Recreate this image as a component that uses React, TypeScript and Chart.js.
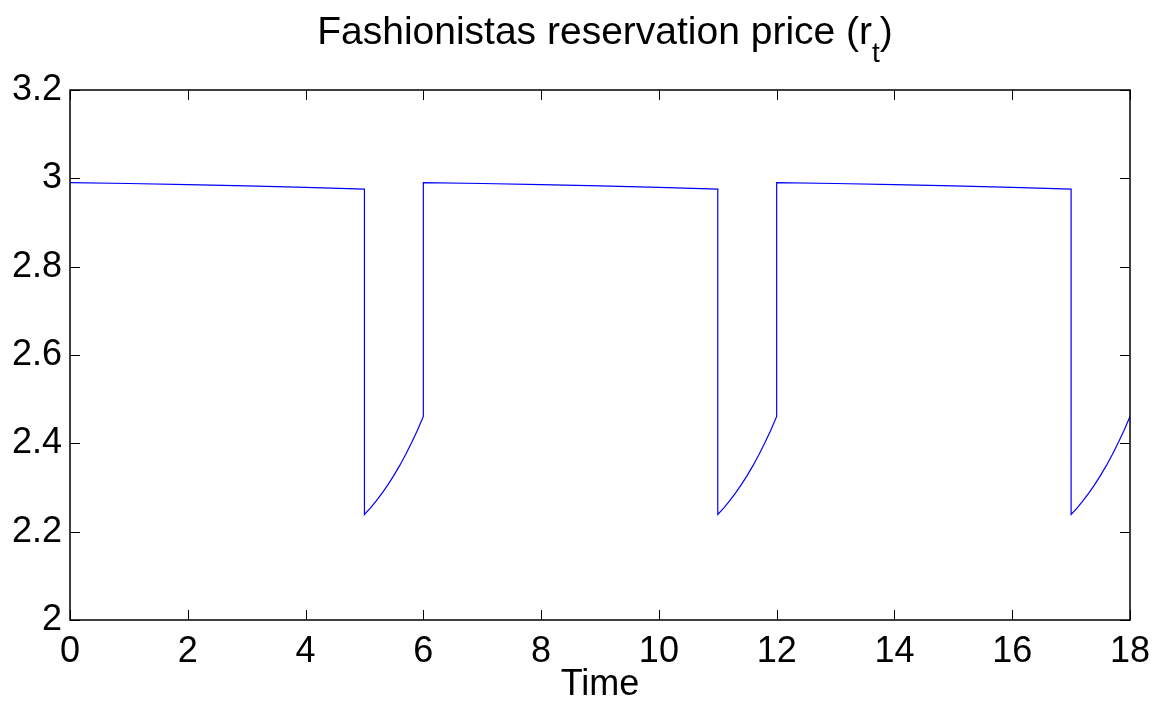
import React, { useEffect, useRef } from "react";
import { Chart, registerables } from "chart.js";

Chart.register(...registerables);

// Time points (vertical jumps are given as repeated times)
const timePoints: number[] = [
  0, 1, 2, 3, 4, 5,
  5, 5.1, 5.2, 5.3, 5.4, 5.5, 5.6, 5.7, 5.8, 5.9, 6,
  6, 7, 8, 9, 10, 11,
  11, 11.1, 11.2, 11.3, 11.4, 11.5, 11.6, 11.7, 11.8, 11.9, 12,
  12, 13, 14, 15, 16, 17,
  17, 17.1, 17.2, 17.3, 17.4, 17.5, 17.6, 17.7, 17.8, 17.9, 18,
];

// Fashionistas reservation price r_t
const reservationPrice: number[] = [
  2.9905, 2.9883, 2.9858, 2.983, 2.9795, 2.9755,
  2.239, 2.2535, 2.2695, 2.2872, 2.3065, 2.3275, 2.35, 2.3745, 2.4011, 2.4298, 2.4608,
  2.9905, 2.9883, 2.9858, 2.983, 2.9795, 2.9755,
  2.239, 2.2535, 2.2695, 2.2872, 2.3065, 2.3275, 2.35, 2.3745, 2.4011, 2.4298, 2.4608,
  2.9905, 2.9883, 2.9858, 2.983, 2.9795, 2.9755,
  2.239, 2.2535, 2.2695, 2.2872, 2.3065, 2.3275, 2.35, 2.3745, 2.4011, 2.4298, 2.4608,
];

const xTicks: number[] = [0, 2, 4, 6, 8, 10, 12, 14, 16, 18];
const yTicks: number[] = [2, 2.2, 2.4, 2.6, 2.8, 3, 3.2];
const yTickLabels: string[] = ["2", "2.2", "2.4", "2.6", "2.8", "3", "3.2"];

const titleMain = "Fashionistas reservation price (r";
const titleSub = "t";
const titleEnd = ")";
const xAxisLabel = "Time";

const FONT = "'Liberation Sans', Arial, Helvetica, sans-serif";

const framePlugin = {
  id: "matlabFrame",
  afterDraw(chart: any) {
    const ctx = chart.ctx;
    const { left, right, top, bottom } = chart.chartArea;
    const xs = chart.scales.x;
    const ys = chart.scales.y;
    ctx.save();
    ctx.strokeStyle = "#000";
    ctx.lineWidth = 1.5;
    ctx.strokeRect(left, top, right - left, bottom - top);
    ctx.lineWidth = 1;
    const tl = 10;
    ctx.beginPath();
    for (const v of xTicks) {
      const px = Math.round(xs.getPixelForValue(v)) + 0.5;
      ctx.moveTo(px, bottom);
      ctx.lineTo(px, bottom - tl);
      ctx.moveTo(px, top);
      ctx.lineTo(px, top + tl);
    }
    for (const v of yTicks) {
      const py = Math.round(ys.getPixelForValue(v)) + 0.5;
      ctx.moveTo(left, py);
      ctx.lineTo(left + tl, py);
      ctx.moveTo(right, py);
      ctx.lineTo(right - tl, py);
    }
    ctx.stroke();

    // Title with subscript
    const mainFont = `39px ${FONT}`;
    const subFont = `28px ${FONT}`;
    ctx.fillStyle = "#000";
    ctx.textBaseline = "alphabetic";
    ctx.textAlign = "left";
    ctx.font = mainFont;
    const w1 = ctx.measureText(titleMain).width;
    const w3 = ctx.measureText(titleEnd).width;
    ctx.font = subFont;
    const w2 = ctx.measureText(titleSub).width;
    const total = w1 + w2 + w3;
    const cx = (left + right) / 2 + 5;
    let x = cx - total / 2;
    const baseY = 44;
    ctx.font = mainFont;
    ctx.fillText(titleMain, x, baseY);
    x += w1;
    ctx.font = subFont;
    ctx.fillText(titleSub, x, baseY + 18);
    x += w2;
    ctx.font = mainFont;
    ctx.fillText(titleEnd, x, baseY);
    ctx.restore();
  },
};

export default function App() {
  const canvasRef = useRef<HTMLCanvasElement | null>(null);

  useEffect(() => {
    const canvas = canvasRef.current;
    if (!canvas) return;
    const data = timePoints.map((t, i) => ({ x: t, y: reservationPrice[i] }));
    const chart = new Chart(canvas, {
      type: "line",
      data: {
        datasets: [
          {
            data,
            borderColor: "#0000ff",
            borderWidth: 1.2,
            pointRadius: 0,
            tension: 0,
            fill: false,
          },
        ],
      },
      options: {
        animation: false,
        responsive: false,
        devicePixelRatio: 1,
        layout: { padding: { left: 0, top: 90, right: 34, bottom: 0 } },
        plugins: {
          legend: { display: false },
          title: { display: false },
          tooltip: { enabled: false },
        },
        scales: {
          x: {
            type: "linear",
            min: 0,
            max: 18,
            afterBuildTicks: (scale: any) => {
              scale.ticks = xTicks.map((v) => ({ value: v }));
            },
            afterFit: (scale: any) => {
              scale.height = 91;
            },
            grid: { display: false, drawTicks: false },
            border: { display: false },
            ticks: {
              padding: 10,
              color: "#000",
              font: { family: FONT, size: 36 },
              maxRotation: 0,
              autoSkip: false,
            },
            title: {
              display: true,
              text: xAxisLabel,
              color: "#000",
              font: { family: FONT, size: 36 },
              padding: { top: 0, bottom: 4 },
            },
          },
          y: {
            type: "linear",
            min: 2,
            max: 3.2,
            afterBuildTicks: (scale: any) => {
              scale.ticks = yTicks.map((v) => ({ value: v }));
            },
            afterFit: (scale: any) => {
              scale.width = 70;
            },
            grid: { display: false, drawTicks: false },
            border: { display: false },
            ticks: {
              padding: 8,
              color: "#000",
              font: { family: FONT, size: 36 },
              autoSkip: false,
              callback: (value: any) => {
                const i = yTicks.findIndex((v) => Math.abs(v - Number(value)) < 1e-6);
                return i >= 0 ? yTickLabels[i] : String(value);
              },
            },
          },
        },
      },
      plugins: [framePlugin],
    });
    return () => chart.destroy();
  }, []);

  return (
    <div style={{ position: "absolute", left: 0, top: 0, width: 1164, height: 711, background: "#fff" }}>
      <canvas ref={canvasRef} width={1164} height={711} />
    </div>
  );
}
